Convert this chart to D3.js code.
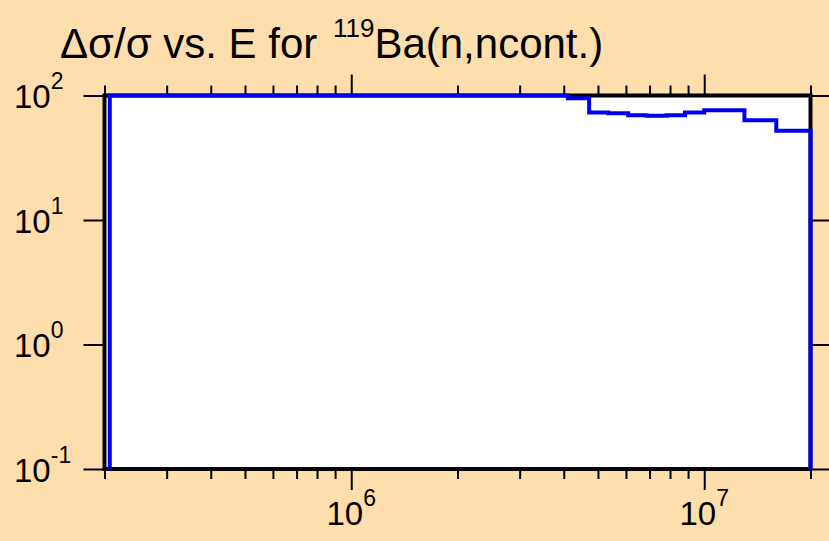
<!DOCTYPE html>
<html>
<head>
<meta charset="utf-8">
<script src="https://cdn.jsdelivr.net/npm/d3@7"></script>
<style>
  body { margin: 0; background: #FFDEAD; }
  svg { display: block; font-family: "Liberation Sans", Arial, sans-serif; }
</style>
</head>
<body>
<svg id="chart" width="829" height="541"></svg>
<script>
// bin edges (eV) and relative uncertainty (%)
const binEdges = [2.07e5, 4.11e6, 4.72e6, 5.35e6, 6.09e6, 6.87e6, 7.83e6, 8.82e6, 1.0e7, 1.3e7, 1.6e7, 2.0e7];
const relErr = [100, 95, 73, 72, 69.5, 68.7, 69.5, 73, 76, 63.4, 52];

const xMajor = [1e6, 1e7];
const xMinor = [2e5, 3e5, 4e5, 5e5, 6e5, 7e5, 8e5, 9e5, 2e6, 3e6, 4e6, 5e6, 6e6, 7e6, 8e6, 9e6, 2e7];
const yMajor = [0.1, 1, 10, 100];
const xLabels = ["6", "7"];
const yLabels = ["-1", "0", "1", "2"];

const width = 829, height = 541;
const svg = d3.select("#chart");

svg.append("rect").attr("width", width).attr("height", height).attr("fill", "#FFDEAD");

const x = d3.scaleLog().domain([2e5, 2e7]).range([104.5, 810.5]);
const y = d3.scaleLog().domain([0.1, 100]).range([469, 95.5]);

// plot area
svg.append("rect")
  .attr("x", x(2e5)).attr("y", y(100))
  .attr("width", x(2e7) - x(2e5)).attr("height", y(0.1) - y(100))
  .attr("fill", "white");

function tickAxis(axis, vals, size, tr) {
  const g = svg.append("g").attr("transform", tr)
    .call(axis.tickValues(vals).tickSize(size).tickSizeOuter(0).tickFormat(""));
  g.select(".domain").remove();
  g.selectAll(".tick line").attr("stroke", "black").attr("stroke-width", 2);
  return g;
}

// bottom + top x ticks
tickAxis(d3.axisBottom(x), xMinor, 10, `translate(0,${y(0.1)})`);
tickAxis(d3.axisBottom(x), xMajor, 21, `translate(0,${y(0.1)})`);
tickAxis(d3.axisTop(x), xMinor, 10, `translate(0,${y(100)})`);
tickAxis(d3.axisTop(x), xMajor, 21, `translate(0,${y(100)})`);
// left + right y ticks
tickAxis(d3.axisLeft(y), yMajor, 21, `translate(${x(2e5)},0)`);
tickAxis(d3.axisRight(y), yMajor, 20, `translate(${x(2e7)},0)`);

// frame
svg.append("rect")
  .attr("x", x(2e5)).attr("y", y(100))
  .attr("width", x(2e7) - x(2e5)).attr("height", y(0.1) - y(100))
  .attr("fill", "none").attr("stroke", "black").attr("stroke-width", 4);

// x labels
xMajor.forEach((v, i) => {
  const t = svg.append("text")
    .attr("x", x(v)).attr("y", 525)
    .attr("text-anchor", "middle")
    .style("font-size", "33px");
  t.append("tspan").text("10");
  t.append("tspan").attr("dy", -19).style("font-size", "23px").text(xLabels[i]);
});

// y labels
yMajor.forEach((v, i) => {
  const t = svg.append("text")
    .attr("x", 14).attr("y", y(v) + 12.5)
    .style("font-size", "33px");
  t.append("tspan").text("10");
  t.append("tspan").attr("dy", -19).style("font-size", "23px").text(yLabels[i]);
});

// title
const title = svg.append("text").attr("x", 60).attr("y", 58).style("font-size", "42px");
title.append("tspan").text("\u0394\u03c3/\u03c3 vs. E for ");
title.append("tspan").attr("dx", 4).attr("dy", -21).style("font-size", "26px").text("119");
title.append("tspan").attr("dy", 21).text("Ba(n,ncont.)");

// step line
const pts = [[binEdges[0], 0.1]];
relErr.forEach((v, i) => {
  pts.push([binEdges[i], v]);
  pts.push([binEdges[i + 1], v]);
});
pts.push([binEdges[binEdges.length - 1], 0.1]);

const line = d3.line().x(d => x(d[0])).y(d => y(d[1]));
svg.append("path")
  .datum(pts)
  .attr("d", line)
  .attr("fill", "none")
  .attr("stroke", "#0000EE")
  .attr("stroke-width", 4);
</script>
</body>
</html>
